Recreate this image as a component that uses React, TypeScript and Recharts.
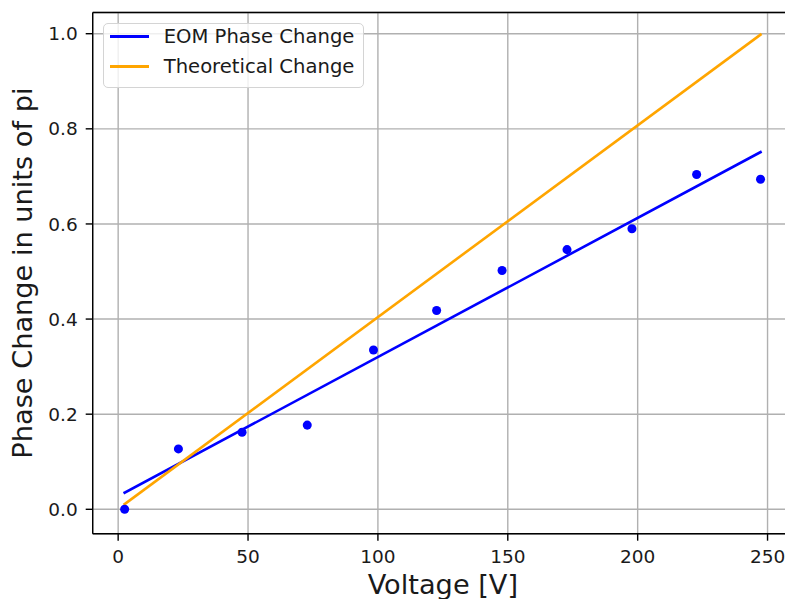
import React from 'react';
import {
  ComposedChart,
  Line,
  Scatter,
  XAxis,
  YAxis,
  CartesianGrid,
  Legend,
  ReferenceLine,
  Label,
} from 'recharts';

// measured phase shift (in units of pi) against applied voltage
const voltage = [2.5, 23.2, 47.7, 72.8, 98.3, 122.6, 147.8, 172.8, 197.8, 222.7, 247.3];
const phase = [0.0, 0.127, 0.162, 0.177, 0.335, 0.418, 0.502, 0.546, 0.59, 0.704, 0.694];

// straight-line fit of the measurement and the expected response
const fitVoltage = [2.5, 247.3];
const fitPhase = [0.035, 0.751];
const theoryVoltage = [2.5, 247.3];
const theoryPhase = [0.011, 0.998];

const xTicks = [0, 50, 100, 150, 200, 250];
const yTicks = [0, 0.2, 0.4, 0.6, 0.8, 1.0];
const xDomain = [-9.8, 259.8];
const yDomain = [-0.0513, 1.0446];

const measured = voltage.map((v, i) => ({ v, phase: phase[i] }));
const fit = fitVoltage.map((v, i) => ({ v, phase: fitPhase[i] }));
const theory = theoryVoltage.map((v, i) => ({ v, phase: theoryPhase[i] }));

const FONT = 'DejaVu Sans, sans-serif';
const TEXT = '#1a1a1a';

const XTitle = (props: any) => {
  const { x, y, width } = props.viewBox;
  return (
    <text x={x + width / 2} y={y + 60.6} textAnchor="middle" fontSize={27.2} fontFamily={FONT} fill={TEXT}>
      Voltage [V]
    </text>
  );
};

const YTitle = (props: any) => {
  const { x, y, height } = props.viewBox;
  const cx = x + 19.6;
  const cy = y + height / 2;
  return (
    <text
      x={cx}
      y={cy}
      transform={`rotate(-90, ${cx}, ${cy})`}
      textAnchor="middle"
      fontSize={27.2}
      fontFamily={FONT}
      fill={TEXT}
    >
      Phase Change in units of pi
    </text>
  );
};

const LegendBox = ({ payload }: any) => (
  <div
    style={{
      width: 261,
      height: 65,
      boxSizing: 'border-box',
      border: '1.3px solid #d4d4d4',
      borderRadius: 5,
      background: 'rgba(255,255,255,0.8)',
      fontFamily: FONT,
      fontSize: 19.6,
      color: TEXT,
    }}
  >
    <div style={{ position: 'relative', top: -1.8 }}>
      {(payload || [])
        .filter((p: any) => p.type !== 'none')
        .map((p: any) => (
          <div key={p.value} style={{ display: 'flex', alignItems: 'center', height: 29.7, whiteSpace: 'nowrap' }}>
            <span style={{ display: 'inline-block', marginLeft: 6, width: 39, height: 2.6, background: p.color }} />
            <span style={{ marginLeft: 15 }}>{p.value}</span>
          </div>
        ))}
    </div>
  </div>
);

export default function App() {
  return (
    <div style={{ position: 'fixed', left: 0, top: 0, width: 785, height: 599, overflow: 'hidden', background: '#fff' }}>
      <ComposedChart width={800} height={599} margin={{ top: 12.5, right: 7, bottom: 35.3, left: 12.7 }}>
        <CartesianGrid stroke="#b0b0b0" strokeWidth={1.4} />
        <XAxis
          type="number"
          dataKey="v"
          domain={xDomain}
          ticks={xTicks}
          allowDataOverflow
          height={30}
          tickSize={7}
          tickMargin={9}
          axisLine={{ stroke: '#000', strokeWidth: 1.4 }}
          tickLine={{ stroke: '#000', strokeWidth: 1.4 }}
          tick={{ fill: TEXT, fontSize: 18.5, fontFamily: FONT }}
        >
          <Label content={XTitle} />
        </XAxis>
        <YAxis
          type="number"
          domain={yDomain}
          ticks={yTicks}
          allowDataOverflow
          width={80}
          tickSize={7}
          tickMargin={8}
          tickFormatter={(t: number) => t.toFixed(1)}
          axisLine={{ stroke: '#000', strokeWidth: 1.4 }}
          tickLine={{ stroke: '#000', strokeWidth: 1.4 }}
          tick={{ fill: TEXT, fontSize: 18.5, fontFamily: FONT }}
        >
          <Label content={YTitle} />
        </YAxis>
        <ReferenceLine y={yDomain[1]} stroke="#000" strokeWidth={1.4} />
        <Line
          data={fit}
          dataKey="phase"
          name="EOM Phase Change"
          stroke="#0000ff"
          strokeWidth={2.6}
          strokeLinecap="square"
          dot={false}
          activeDot={false}
          isAnimationActive={false}
        />
        <Line
          data={theory}
          dataKey="phase"
          name="Theoretical Change"
          stroke="#ffa500"
          strokeWidth={2.6}
          strokeLinecap="square"
          dot={false}
          activeDot={false}
          isAnimationActive={false}
        />
        <Scatter data={measured} dataKey="phase" fill="#0000ff" legendType="none" isAnimationActive={false} />
        <Legend
          layout="vertical"
          align="center"
          verticalAlign="middle"
          content={LegendBox}
          wrapperStyle={{ left: 102.7, top: 22.7, width: 'auto', height: 'auto' }}
        />
      </ComposedChart>
    </div>
  );
}
